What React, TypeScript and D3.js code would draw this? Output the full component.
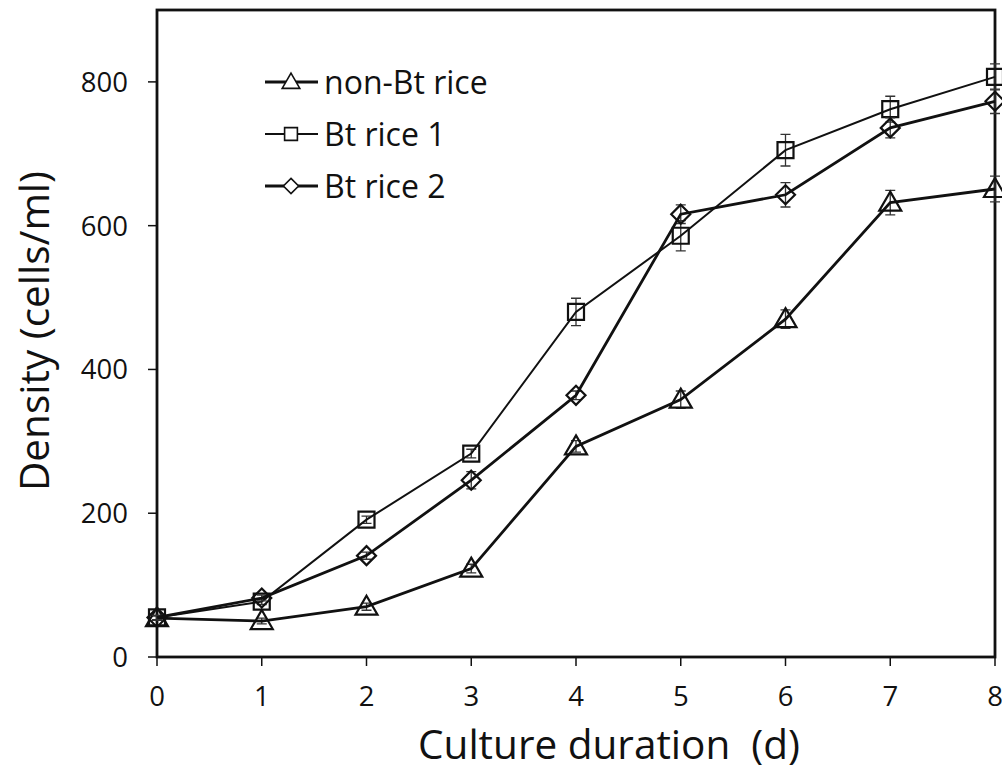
import * as d3 from 'd3';
import { useEffect, useRef } from 'react';

// culture days
const days = [0, 1, 2, 3, 4, 5, 6, 7, 8];

// density (cells/ml) per series
const nonBt = [54, 50, 70, 123, 293, 358, 470, 632, 651];
const bt1 = [55, 77, 191, 283, 480, 586, 705, 762, 807];
const bt2 = [55, 82, 141, 246, 364, 616, 643, 736, 773];

// standard errors
const nonBtErr = [3, 4, 5, 6, 8, 12, 13, 17, 18];
const bt1Err = [3, 4, 5, 6, 19, 21, 22, 18, 18];
const bt2Err = [3, 4, 5, 12, 6, 13, 17, 14, 17];

const yTicks = [0, 200, 400, 600, 800];
const seriesNames = ['non-Bt rice', 'Bt rice 1', 'Bt rice 2'];

type Series = { name: string; values: number[]; errs: number[]; shape: string; width: number };

const series: Series[] = [
  { name: seriesNames[0], values: nonBt, errs: nonBtErr, shape: 'tri', width: 2.8 },
  { name: seriesNames[1], values: bt1, errs: bt1Err, shape: 'sq', width: 2 },
  { name: seriesNames[2], values: bt2, errs: bt2Err, shape: 'dia', width: 2.8 },
];

function markerPath(shape: string) {
  if (shape === 'tri') return 'M0,-11L11,8L-11,8Z';
  if (shape === 'sq') return 'M-8,-8H8V8H-8Z';
  return 'M0,-9.5L9.5,0L0,9.5L-9.5,0Z';
}

export default function App() {
  const svgRef = useRef<SVGSVGElement | null>(null);

  useEffect(() => {
    if (!svgRef.current) return;
    const svg = d3.select(svgRef.current);
    svg.selectAll('*').remove();

    const left = 157, right = 995, top = 10, bottom = 657;
    const x = d3.scaleLinear().domain([0, 8]).range([left, right]);
    const y = d3.scaleLinear().domain([0, 900]).range([bottom, top]);
    const font = '"Open Sans", Lato, sans-serif';

    // frame
    svg.append('rect')
      .attr('x', left).attr('y', top)
      .attr('width', right - left).attr('height', bottom - top)
      .attr('fill', 'none').attr('stroke', '#111').attr('stroke-width', 2.8);

    // y ticks
    const yg = svg.append('g');
    yTicks.forEach(t => {
      yg.append('line').attr('x1', left - 9).attr('x2', left).attr('y1', y(t)).attr('y2', y(t))
        .attr('stroke', '#111').attr('stroke-width', 1.5);
      yg.append('text').attr('x', 128).attr('y', y(t)).attr('dy', '0.36em')
        .attr('text-anchor', 'end').attr('font-family', font).attr('font-size', 27.5)
        .attr('fill', '#111').text(t);
    });

    // x ticks
    days.forEach(dv => {
      svg.append('line').attr('x1', x(dv)).attr('x2', x(dv)).attr('y1', bottom).attr('y2', bottom + 9)
        .attr('stroke', '#111').attr('stroke-width', 1.5);
      svg.append('text').attr('x', x(dv)).attr('y', 706)
        .attr('text-anchor', 'middle').attr('font-family', font).attr('font-size', 27.5)
        .attr('fill', '#111').text(dv);
    });

    // axis titles
    svg.append('text').attr('x', 609).attr('y', 759)
      .attr('text-anchor', 'middle').attr('font-family', font).attr('font-size', 40.5)
      .attr('fill', '#111').style('white-space', 'pre').text('Culture duration  (d)');
    svg.append('text').attr('transform', `translate(49,331) rotate(-90)`)
      .attr('text-anchor', 'middle').attr('font-family', font).attr('font-size', 40.5)
      .attr('fill', '#111').text('Density (cells/ml)');

    const line = d3.line<number>().x((_, i) => x(days[i])).y(v => y(v));

    series.forEach(s => {
      const g = svg.append('g');
      // error bars
      s.values.forEach((v, i) => {
        const cx = x(days[i]);
        const e = s.errs[i];
        g.append('path')
          .attr('d', `M${cx},${y(v - e)}V${y(v + e)}M${cx - 5},${y(v + e)}H${cx + 5}M${cx - 5},${y(v - e)}H${cx + 5}`)
          .attr('stroke', '#333').attr('stroke-width', 1.3).attr('fill', 'none');
      });
      g.append('path').datum(s.values).attr('d', line)
        .attr('fill', 'none').attr('stroke', '#111').attr('stroke-width', s.width);
      g.selectAll('path.m').data(s.values).join('path').attr('class', 'm')
        .attr('transform', (v, i) => `translate(${x(days[i])},${y(v)})`)
        .attr('d', markerPath(s.shape))
        .attr('fill', 'none').attr('stroke', '#111').attr('stroke-width', 2.2);
    });

    // legend
    const lg = svg.append('g');
    series.forEach((s, i) => {
      const ly = 82 + i * 52;
      lg.append('line').attr('x1', 265).attr('x2', 318).attr('y1', ly).attr('y2', ly)
        .attr('stroke', '#111').attr('stroke-width', s.width);
      lg.append('path').attr('transform', `translate(291,${ly}) scale(0.8)`)
        .attr('d', markerPath(s.shape))
        .attr('fill', 'white').attr('stroke', '#111').attr('stroke-width', 2);
      lg.append('text').attr('x', 324).attr('y', ly).attr('dy', '0.36em')
        .attr('font-family', font).attr('font-size', 32).attr('fill', '#111').text(s.name);
    });
  }, []);

  return (
    <div style={{ position: 'absolute', left: 0, top: 0 }}>
      <svg ref={svgRef} width={1002} height={776} style={{ display: 'block', background: 'white' }} />
    </div>
  );
}
